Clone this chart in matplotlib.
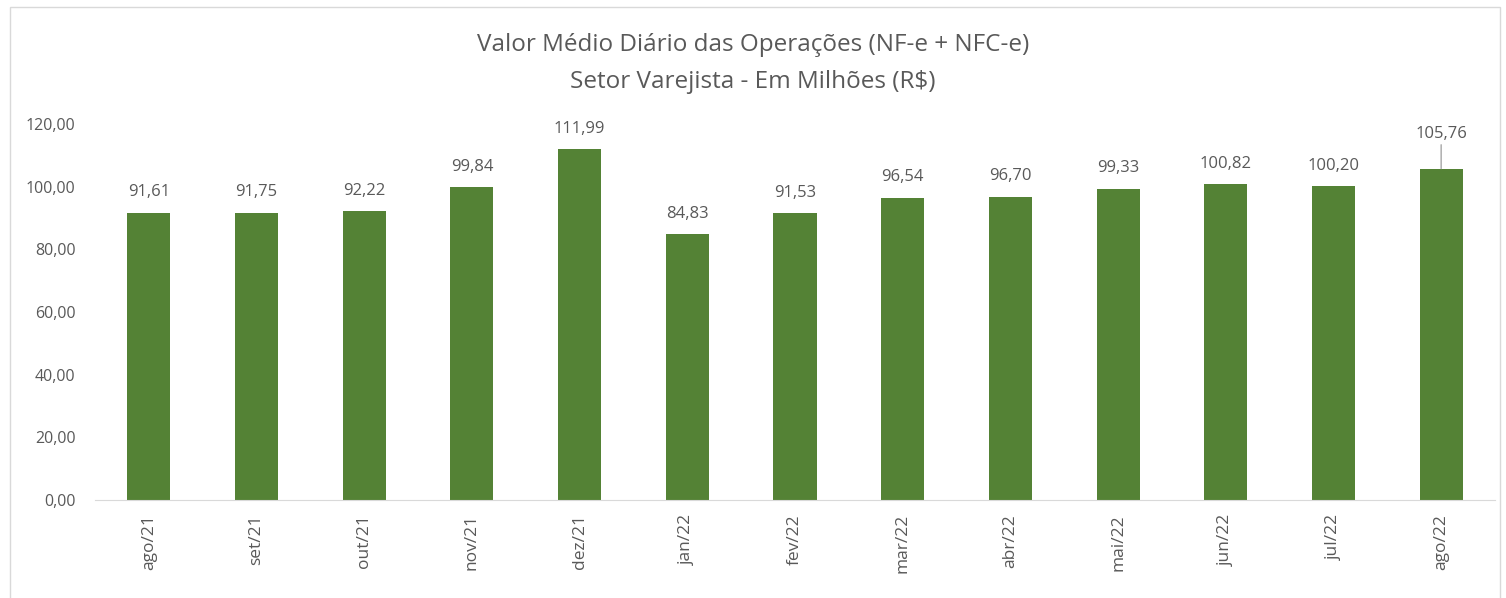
import matplotlib.pyplot as plt
from matplotlib.patches import Rectangle

# dados
meses = ["ago/21", "set/21", "out/21", "nov/21", "dez/21", "jan/22", "fev/22",
         "mar/22", "abr/22", "mai/22", "jun/22", "jul/22", "ago/22"]
valores = [91.61, 91.75, 92.22, 99.84, 111.99, 84.83, 91.53,
           96.54, 96.70, 99.33, 100.82, 100.20, 105.76]
yticks = [0, 20, 40, 60, 80, 100, 120]

plt.rcParams['font.family'] = ['Open Sans', 'DejaVu Sans']
texto = '#595959'

fig = plt.figure(figsize=(15.06, 5.98), dpi=100)
ax = fig.add_axes([95/1506, 1 - 500/598, 1400/1506, 376/598])

x = range(len(meses))
ax.bar(x, valores, width=0.40, color='#548235')
ax.set_xlim(-0.5, len(meses) - 0.5)
ax.set_ylim(0, 120)
ax.set_yticks(yticks)
ax.set_yticklabels([f"{v:.2f}".replace('.', ',') for v in yticks], color=texto, fontsize=11.5)
ax.set_xticks(list(x))
ax.set_xticklabels(meses, rotation=90, color=texto, fontsize=12.5)
ax.tick_params(axis='x', length=0, pad=10)
ax.tick_params(axis='y', length=0, pad=14)

for s in ['top', 'right', 'left']:
    ax.spines[s].set_visible(False)
ax.spines['bottom'].set_color('#d9d9d9')

for i, v in enumerate(valores):
    lbl = f"{v:.2f}".replace('.', ',')
    if i == len(valores) - 1:
        ax.annotate(lbl, xy=(i, v), xytext=(i, v + 8.5), ha='center', va='bottom',
                    color=texto, fontsize=12,
                    arrowprops=dict(arrowstyle='-', color='#a6a6a6', lw=1, shrinkA=0, shrinkB=0))
    else:
        ax.text(i, v + 4, lbl, ha='center', va='bottom', color=texto, fontsize=12)

fig.text(0.5, 1 - 45/598, "Valor Médio Diário das Operações (NF-e + NFC-e)",
         ha='center', va='center', fontsize=17.5, color=texto)
fig.text(0.5, 1 - 82/598, "Setor Varejista - Em Milhões (R$)",
         ha='center', va='center', fontsize=17.5, color=texto)

fig.patches.append(Rectangle((10/1506, -0.01), 1490/1506, 1 - 7/598 + 0.01,
                             transform=fig.transFigure, fill=False,
                             edgecolor='#d9d9d9', lw=1))

fig.savefig("out.png", dpi=100)
